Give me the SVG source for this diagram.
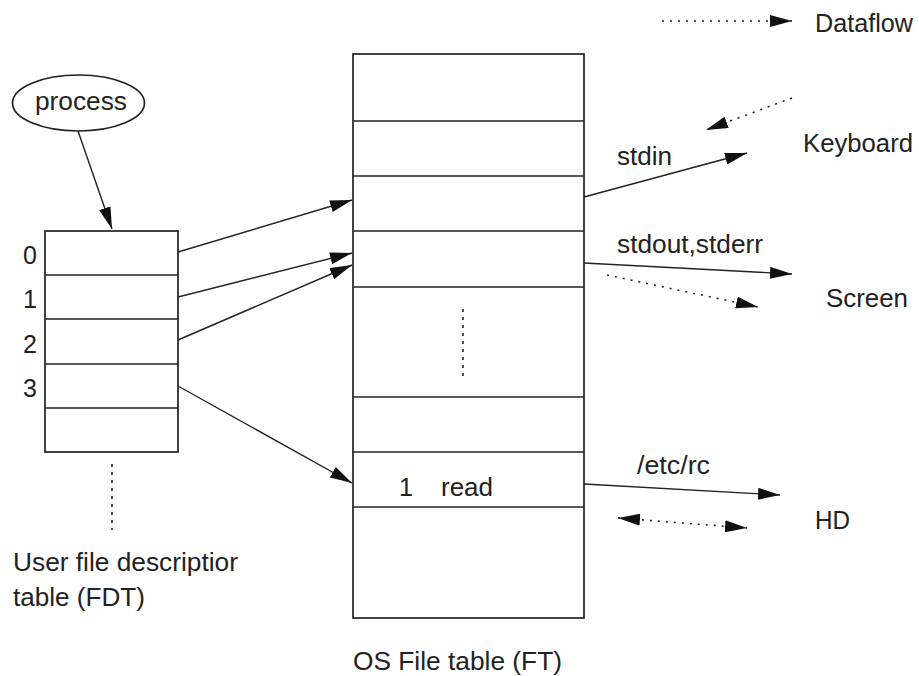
<svg xmlns="http://www.w3.org/2000/svg" width="919" height="676" viewBox="0 0 919 676">
  <style>
    .box { fill: #fff; stroke: #222; stroke-width: 1.7; }
    .sep { stroke: #222; stroke-width: 1.7; }
    .lbl { font-family: "Liberation Sans", Arial, sans-serif; font-size: 25px; fill: #222; }
    .solid { stroke: #222; stroke-width: 1.4; fill: none; marker-end: url(#head); }
    .flow { stroke: #222; stroke-width: 1.6; fill: none; stroke-dasharray: 2 6; marker-end: url(#head); }
    .dots { stroke: #222; stroke-width: 1.6; fill: none; stroke-dasharray: 3 5; }
  </style>
  <defs>
    <marker id="head" viewBox="0 0 22 12" refX="22" refY="6" markerWidth="22" markerHeight="12" markerUnits="userSpaceOnUse" orient="auto-start-reverse">
      <path d="M0,0 L22,6 L0,12 z" fill="#111"/>
    </marker>
  </defs>
  <rect width="919" height="676" fill="#fff"/>

  <!-- process node -->
  <g id="process">
    <ellipse cx="78.5" cy="103" rx="66" ry="28" class="box"/>
    <text x="35" y="110" class="lbl" textLength="92" lengthAdjust="spacingAndGlyphs">process</text>
  </g>

  <!-- user file descriptor table -->
  <g id="fdt">
    <rect x="45" y="231" width="133" height="221" class="box"/>
    <line x1="45" y1="275" x2="178" y2="275" class="sep"/>
    <line x1="45" y1="319" x2="178" y2="319" class="sep"/>
    <line x1="45" y1="364" x2="178" y2="364" class="sep"/>
    <line x1="45" y1="408" x2="178" y2="408" class="sep"/>
    <text x="23" y="264" class="lbl">0</text>
    <text x="23" y="308" class="lbl">1</text>
    <text x="23" y="353" class="lbl">2</text>
    <text x="23" y="397" class="lbl">3</text>
    <line x1="112" y1="464" x2="112" y2="530" class="dots"/>
    <text x="13" y="571" class="lbl" textLength="225" lengthAdjust="spacingAndGlyphs">User file descriptior</text>
    <text x="13" y="606" class="lbl" textLength="132" lengthAdjust="spacingAndGlyphs">table (FDT)</text>
  </g>

  <!-- OS file table -->
  <g id="ft">
    <rect x="353" y="54" width="231" height="564" class="box"/>
    <line x1="353" y1="121" x2="584" y2="121" class="sep"/>
    <line x1="353" y1="176" x2="584" y2="176" class="sep"/>
    <line x1="353" y1="231" x2="584" y2="231" class="sep"/>
    <line x1="353" y1="287" x2="584" y2="287" class="sep"/>
    <line x1="353" y1="397" x2="584" y2="397" class="sep"/>
    <line x1="353" y1="452" x2="584" y2="452" class="sep"/>
    <line x1="353" y1="507" x2="584" y2="507" class="sep"/>
    <line x1="463" y1="309" x2="463" y2="376" class="dots"/>
    <text x="399" y="496" class="lbl">1</text>
    <text x="441" y="496" class="lbl" textLength="52" lengthAdjust="spacingAndGlyphs">read</text>
    <text x="353" y="670" class="lbl" textLength="209" lengthAdjust="spacingAndGlyphs">OS File table (FT)</text>
  </g>

  <!-- devices and legend -->
  <g id="legend">
    <line x1="662" y1="21" x2="792" y2="21" class="flow" stroke-dasharray="3 5"/>
    <text x="815" y="32" class="lbl" textLength="98" lengthAdjust="spacingAndGlyphs">Dataflow</text>
  </g>
  <g id="keyboard">
    <text x="803" y="152" class="lbl" textLength="110" lengthAdjust="spacingAndGlyphs">Keyboard</text>
  </g>
  <g id="screen">
    <text x="826" y="307" class="lbl" textLength="82" lengthAdjust="spacingAndGlyphs">Screen</text>
  </g>
  <g id="hd">
    <text x="815" y="529" class="lbl" textLength="35" lengthAdjust="spacingAndGlyphs">HD</text>
  </g>

  <!-- connectors -->
  <g id="connectors">
    <line x1="78" y1="131" x2="112" y2="229" class="solid"/>
    <line x1="178" y1="252" x2="352" y2="200" class="solid"/>
    <line x1="178" y1="297" x2="352" y2="253" class="solid"/>
    <line x1="178" y1="340" x2="352" y2="265" class="solid"/>
    <line x1="178" y1="386" x2="352" y2="483" class="solid"/>

    <line x1="584" y1="197" x2="747" y2="153" class="solid"/>
    <text x="617" y="165" class="lbl" textLength="55" lengthAdjust="spacingAndGlyphs">stdin</text>
    <line x1="792" y1="98" x2="706" y2="130" class="flow"/>

    <line x1="584" y1="263" x2="792" y2="274" class="solid"/>
    <text x="617" y="253" class="lbl" textLength="146" lengthAdjust="spacingAndGlyphs">stdout,stderr</text>
    <line x1="607" y1="275" x2="758" y2="307" class="flow"/>

    <line x1="584" y1="484" x2="780" y2="495" class="solid"/>
    <text x="637" y="474" class="lbl" textLength="73" lengthAdjust="spacingAndGlyphs">/etc/rc</text>
    <line x1="618" y1="518" x2="747" y2="528" class="flow" marker-start="url(#head)"/>
  </g>
</svg>
